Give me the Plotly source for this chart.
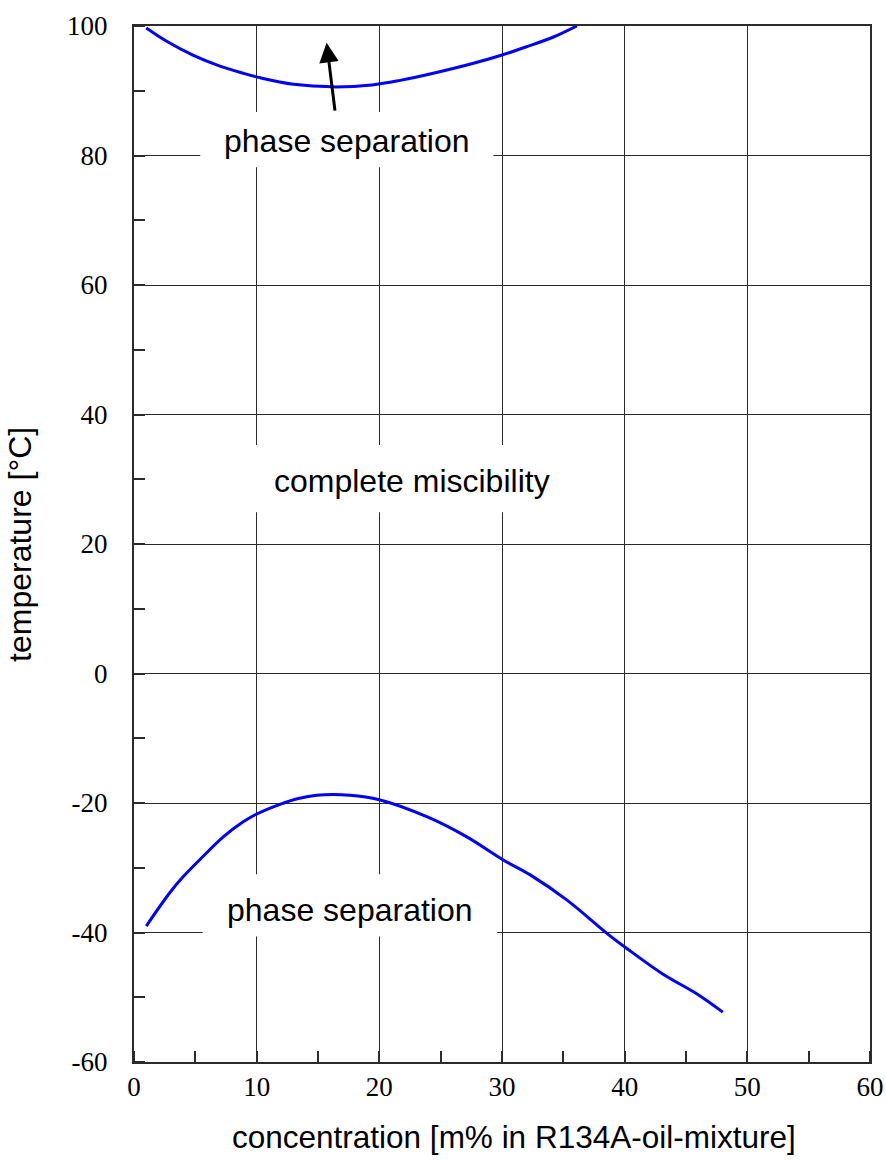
import plotly.graph_objects as go

# ---- data ----
upper_conc = [1.0, 2.7, 4.8, 7.0, 8.9, 10.3, 13.0, 16.2, 19.4, 21.7, 24.4, 27.6, 29.8, 32.0, 34.2, 36.1]
upper_temp = [99.7, 97.6, 95.5, 93.8, 92.7, 92.0, 91.0, 90.6, 90.9, 91.6, 92.7, 94.2, 95.4, 96.8, 98.3, 100.0]

lower_conc = [1.0, 2.9, 4.0, 5.6, 7.3, 8.9, 10.0, 11.9, 13.4, 14.9, 17.6, 20.0, 24.1, 27.1, 30.1, 32.3, 35.3,
              38.6, 40.2, 43.1, 45.9, 48.0]
lower_temp = [-39.0, -33.9, -31.4, -28.3, -25.2, -22.9, -21.7, -20.2, -19.3, -18.8, -18.8, -19.5, -22.3, -25.2,
              -28.8, -31.1, -35.0, -40.2, -42.5, -46.4, -49.5, -52.3]

x_tickvals = [0, 10, 20, 30, 40, 50, 60]
x_ticktext = ["0", "10", "20", "30", "40", "50", "60"]
y_tickvals = [-60, -40, -20, 0, 20, 40, 60, 80, 100]
y_ticktext = ["-60", "-40", "-20", "0", "20", "40", "60", "80", "100"]

region_labels = ["phase separation", "complete miscibility", "phase separation"]
label_pos = [(17.4, 82.2), (22.7, 29.8), (17.6, -36.5)]
label_boxes = [(5.4, 29.3, 78.2, 86.7), (9.4, 35.9, 24.9, 35.3), (5.6, 29.6, -40.6, -31.0)]
arrow_tip = (15.7, 97.4)
arrow_tail = (16.4, 86.7)

GRID = "#2b2b2b"
SANS = "Liberation Sans, Arial, sans-serif"
SERIF = "Liberation Serif, Times New Roman, serif"

fig = go.Figure()
for xs, ys in ((upper_conc, upper_temp), (lower_conc, lower_temp)):
    fig.add_trace(go.Scatter(x=xs, y=ys, mode="lines",
                             line=dict(color="#0000FF", width=3, shape="spline", smoothing=1.0),
                             showlegend=False, hoverinfo="skip"))

for (x0, x1, y0, y1) in label_boxes:
    fig.add_shape(type="rect", xref="x", yref="y", x0=x0, x1=x1, y0=y0, y1=y1,
                  fillcolor="white", line=dict(width=0), layer="between")

for txt, (lx, ly) in zip(region_labels, label_pos):
    fig.add_annotation(x=lx, y=ly, xref="x", yref="y", text=txt, showarrow=False,
                       font=dict(family=SANS, size=32, color="black"))

fig.add_annotation(x=arrow_tip[0], y=arrow_tip[1], ax=arrow_tail[0], ay=arrow_tail[1],
                   xref="x", yref="y", axref="x", ayref="y", text="", showarrow=True,
                   arrowhead=2, arrowsize=1.3, arrowwidth=3, arrowcolor="black")

fig.add_annotation(x=-0.155, y=0.5, xref="paper", yref="paper", text="temperature [°C]",
                   textangle=-90, showarrow=False, xanchor="center", yanchor="middle",
                   font=dict(family=SANS, size=32, color="black"))
fig.add_annotation(x=0.516, y=-0.0724, xref="paper", yref="paper",
                   text="concentration [m% in R134A-oil-mixture]",
                   showarrow=False, xanchor="center", yanchor="middle",
                   font=dict(family=SANS, size=31.5, color="black"))

fig.update_xaxes(range=[0, 60], tickvals=x_tickvals, ticktext=x_ticktext, ticks="",
                 showgrid=True, gridcolor=GRID, gridwidth=1.3, zeroline=False,
                 showline=True, linecolor=GRID, linewidth=2, mirror=True, automargin=False,
                 minor=dict(dtick=5, tick0=0, ticks="inside", ticklen=11, tickcolor=GRID,
                            tickwidth=1.5, showgrid=False),
                 tickfont=dict(family=SERIF, size=27, color="black"), ticklabelstandoff=0)
fig.update_yaxes(range=[-60, 100], tickvals=y_tickvals, ticktext=y_ticktext, ticks="",
                 showgrid=True, gridcolor=GRID, gridwidth=1.3, zeroline=False,
                 showline=True, linecolor=GRID, linewidth=2, mirror=True, automargin=False,
                 minor=dict(dtick=10, tick0=0, ticks="inside", ticklen=11, tickcolor=GRID,
                            tickwidth=1.5, showgrid=False),
                 tickfont=dict(family=SERIF, size=27, color="black"), ticklabelstandoff=19)

fig.update_layout(width=886, height=1160, margin=dict(l=134, r=16, t=26, b=98, autoexpand=False),
                  plot_bgcolor="white", paper_bgcolor="white")

# remove the default 8px page margin so the figure fills the window exactly
fig.write_html("out.html", config={"displayModeBar": False},
               post_script="document.body.style.margin='0';document.body.style.overflow='hidden';")
